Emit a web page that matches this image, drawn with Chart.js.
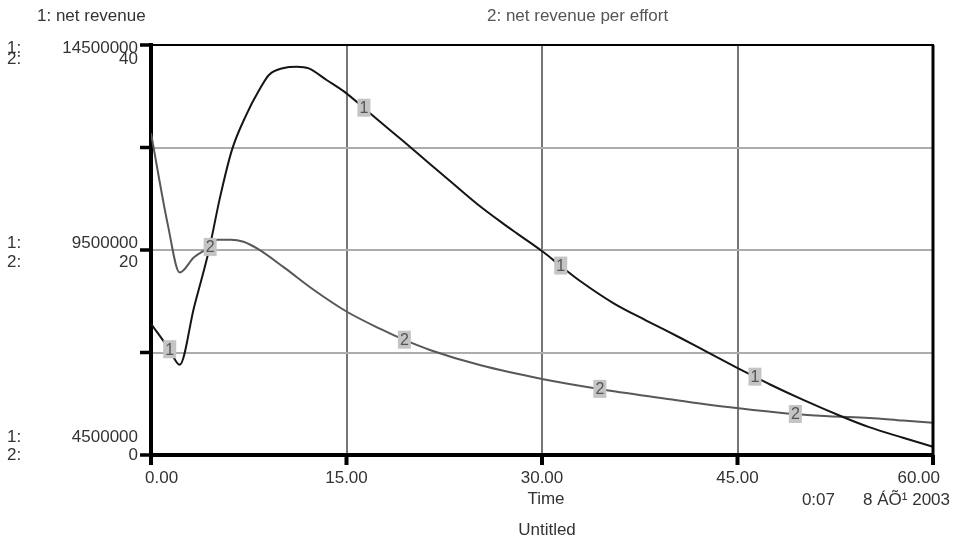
<!DOCTYPE html>
<html>
<head>
<meta charset="utf-8">
<title>net revenue</title>
<script src="https://cdn.jsdelivr.net/npm/chart.js"></script>
<style>
  html, body { margin: 0; padding: 0; background: #fff; }
  #wrap { width: 957px; height: 538px; }
</style>
</head>
<body>
<div id="wrap"><canvas id="chart" width="957" height="538"></canvas></div>
<script>
// 1: net revenue
const times1 = [0, 1.4, 2.2, 3.3, 4.45, 5.3, 6.2, 7.3, 8.3, 9.05, 10.2, 11.2, 12.1, 13.5, 15, 16.3, 17.6, 19.3, 21.4,
  23.1, 25, 27, 28.1, 30.1, 31.4, 32.9, 35.5, 38, 40.6, 42.4, 44.9, 46.3, 47.5, 50, 53, 55.1, 57.7, 60];
const netRevenue = [7700000, 7080000, 6700000, 8100000, 9500000, 10790000, 11930000, 12790000, 13400000, 13770000,
  13940000, 13970000, 13930000, 13640000, 13320000, 12970000, 12620000, 12170000, 11600000,
  11140000, 10630000, 10150000, 9900000, 9450000, 9120000, 8750000, 8200000, 7780000, 7360000,
  7060000, 6640000, 6410000, 6220000, 5850000, 5440000, 5180000, 4920000, 4700000];

// 2: net revenue per effort
const times2 = [0, 1.3, 2.2, 3.3, 4.5, 5.1, 6.1, 7.1, 8.2, 10.2, 12.5, 15, 17.6, 19.4, 21.4, 25.3, 30.1, 34.4, 39.8,
  43.1, 46.2, 49.4, 52, 55.1, 57.7, 60];
const perEffort = [31.4, 22.4, 17.8, 19.3, 20.3, 21.0, 21.0, 20.8, 20.1, 18.3, 16.1, 14.0, 12.3, 11.25, 10.25, 8.75,
  7.4, 6.45, 5.45, 4.85, 4.4, 4.0, 3.78, 3.62, 3.36, 3.15];

// where the little numbered tags sit on each curve
const tagTimes1 = [1.4, 16.3, 31.4, 46.3];
const tagTimes2 = [4.5, 19.4, 34.4, 49.4];

const xTicks = [0, 15, 30, 45, 60];
const xTickLabels = ['0.00', '15.00', '30.00', '45.00', '60.00'];
const y1Labels = ['14500000', '9500000', '4500000'];
const y2Labels = ['40', '20', '0'];

const FONT = '"Liberation Sans", Arial, sans-serif';

const stellaDecor = {
  id: 'stellaDecor',
  afterDatasetsDraw(chart) {
    const ctx = chart.ctx;
    const area = chart.chartArea;
    const xs = chart.scales.x, y1 = chart.scales.y1;

    ctx.save();
    // frame: top and right
    ctx.strokeStyle = '#000';
    ctx.lineWidth = 2;
    ctx.beginPath(); ctx.moveTo(area.left, area.top); ctx.lineTo(area.right + 1, area.top); ctx.stroke();
    ctx.lineWidth = 3;
    ctx.beginPath(); ctx.moveTo(area.right, area.top); ctx.lineTo(area.right, area.bottom); ctx.stroke();

    // left tick marks
    ctx.lineWidth = 3.5;
    for (let v = y1.min; v <= y1.max + 1; v += 2500000) {
      const py = y1.getPixelForValue(v);
      ctx.beginPath(); ctx.moveTo(area.left - 11, py); ctx.lineTo(area.left, py); ctx.stroke();
    }
    // bottom tick marks
    ctx.lineWidth = 4;
    xTicks.forEach(t => {
      const px = xs.getPixelForValue(t);
      ctx.beginPath(); ctx.moveTo(px, area.bottom); ctx.lineTo(px, area.bottom + 10); ctx.stroke();
    });

    // numbered tags on curves
    ctx.font = '16px ' + FONT;
    ctx.textAlign = 'center';
    ctx.textBaseline = 'middle';
    const drawTags = (dsIndex, tagTimes, times, txt) => {
      const meta = chart.getDatasetMeta(dsIndex);
      tagTimes.forEach(t => {
        const i = times.indexOf(t);
        if (i < 0) return;
        const el = meta.data[i];
        ctx.fillStyle = '#c4c4c4';
        ctx.fillRect(el.x - 6, el.y - 9, 13, 18);
        ctx.fillStyle = '#555';
        ctx.fillText(txt, el.x + 0.5, el.y + 1);
      });
    };
    drawTags(0, tagTimes1, times1, '1');
    drawTags(1, tagTimes2, times2, '2');

    // left axis labels
    ctx.font = '17px ' + FONT;
    ctx.fillStyle = '#333';
    const tickVals = [y1.max, (y1.max + y1.min) / 2, y1.min];
    const offs = [[3, 14], [-7, 12], [-18, 0]];
    tickVals.forEach((v, k) => {
      const py = y1.getPixelForValue(v);
      ctx.textAlign = 'left';
      ctx.fillText('1:', 7, py + offs[k][0]);
      ctx.fillText('2:', 7, py + offs[k][1]);
      ctx.textAlign = 'right';
      ctx.fillText(y1Labels[k], 138, py + offs[k][0]);
      ctx.fillText(y2Labels[k], 138, py + offs[k][1]);
    });

    // x axis labels
    xTicks.forEach((t, k) => {
      const px = xs.getPixelForValue(t);
      if (k === 0) { ctx.textAlign = 'left'; ctx.fillText(xTickLabels[k], px - 6, area.bottom + 23); }
      else if (k === xTicks.length - 1) { ctx.textAlign = 'right'; ctx.fillText(xTickLabels[k], px + 7, area.bottom + 23); }
      else { ctx.textAlign = 'center'; ctx.fillText(xTickLabels[k], px, area.bottom + 23); }
    });
    const mid = xs.getPixelForValue(30);
    ctx.textAlign = 'center';
    ctx.fillText('Time', mid + 4, area.bottom + 44);
    ctx.fillText('Untitled', mid + 5, area.bottom + 75);
    ctx.textAlign = 'right';
    ctx.fillText('8 ÁÕ¹ 2003', area.right + 17, area.bottom + 45);
    ctx.fillText('0:07', area.right - 98, area.bottom + 45);

    // series names at top
    ctx.textAlign = 'left';
    ctx.fillStyle = '#333';
    ctx.fillText('1: net revenue', 37, 16);
    ctx.fillStyle = '#555';
    ctx.fillText('2: net revenue per effort', 487, 16);
    ctx.restore();
  }
};

new Chart(document.getElementById('chart'), {
  type: 'line',
  data: {
    datasets: [
      {
        label: 'net revenue',
        data: times1.map((t, i) => ({ x: t, y: netRevenue[i] })),
        yAxisID: 'y1',
        borderColor: '#151515',
        borderWidth: 2,
        pointRadius: 0,
        cubicInterpolationMode: 'monotone'
      },
      {
        label: 'net revenue per effort',
        data: times2.map((t, i) => ({ x: t, y: perEffort[i] })),
        yAxisID: 'y2',
        borderColor: '#585858',
        borderWidth: 2,
        pointRadius: 0,
        cubicInterpolationMode: 'monotone'
      }
    ]
  },
  options: {
    responsive: false,
    animation: false,
    layout: { padding: { left: 151, right: 24, top: 45, bottom: 83 } },
    plugins: { legend: { display: false }, tooltip: { enabled: false } },
    scales: {
      x: {
        type: 'linear',
        min: 0,
        max: 60,
        ticks: { display: false, stepSize: 15 },
        grid: {
          drawTicks: false,
          lineWidth: 2,
          color: c => (c.tick && (c.tick.value === 0 || c.tick.value === 60)) ? 'rgba(0,0,0,0)' : '#767676'
        },
        border: { display: true, color: '#000', width: 4 }
      },
      y1: {
        type: 'linear',
        position: 'left',
        min: 4500000,
        max: 14500000,
        ticks: { display: false, stepSize: 2500000 },
        grid: {
          drawTicks: false,
          lineWidth: 2,
          color: c => (c.tick && (c.tick.value === 4500000 || c.tick.value === 14500000)) ? 'rgba(0,0,0,0)' : '#acacac'
        },
        border: { display: true, color: '#000', width: 4 }
      },
      y2: {
        type: 'linear',
        display: false,
        min: 0,
        max: 40
      }
    }
  },
  plugins: [stellaDecor]
});
</script>
</body>
</html>
